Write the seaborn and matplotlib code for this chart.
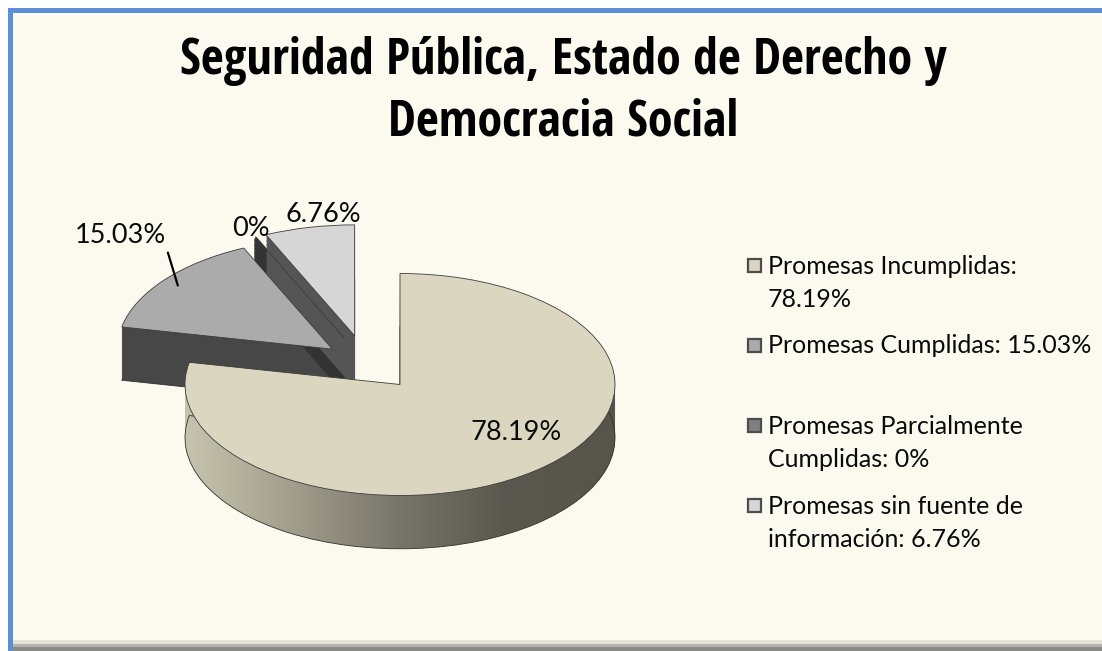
import numpy as np
import matplotlib
matplotlib.use("Agg")
import matplotlib.pyplot as plt
import seaborn as sns
from matplotlib.path import Path
from matplotlib.patches import PathPatch, Rectangle

# datos del grafico
categorias = ["Promesas Incumplidas", "Promesas Cumplidas",
              "Promesas Parcialmente Cumplidas", "Promesas sin fuente de información"]
porcentajes = [78.19, 15.03, 0.0, 6.76]
etiquetas = ["78.19%", "15.03%", "0%", "6.76%"]
leyenda = ["Promesas Incumplidas:\n78.19%", "Promesas Cumplidas: 15.03%",
           "Promesas Parcialmente\nCumplidas: 0%", "Promesas sin fuente de\ninformación: 6.76%"]
titulo = "Seguridad Pública, Estado de Derecho y\nDemocracia Social"

colores_tapa = ["#dad6c0", "#ababab", "#808080", "#d6d6d6"]
colores_lado = ["#8f8c7c", "#474747", "#333333", "#555555"]
# orden de dibujo (atras -> adelante)
rango = [3, 0, 1, 2]

sns.set_theme(style="white")
plt.rcParams["font.family"] = ["Lato", "DejaVu Sans"]

W, H = 1102, 651
fig = plt.figure(figsize=(W / 100, H / 100), dpi=100, facecolor="white")


def rect_px(x0, y0, x1, y1, color, z=-5, edge="none", lw=0):
    # rectangulo en pixeles de la figura (origen arriba a la izquierda)
    r = Rectangle((x0 / W, 1 - y1 / H), (x1 - x0) / W, (y1 - y0) / H,
                  transform=fig.transFigure, facecolor=color,
                  edgecolor=edge, linewidth=lw, zorder=z)
    fig.add_artist(r)
    return r


# marco del grafico
rect_px(13, 13, W, 651, "#fcfaef")
rect_px(13, 640, W, 644, "#e4e2d6")
rect_px(13, 644, W, 647, "#b4b3ac")
rect_px(13, 647, W, 651, "#8a8a88")
rect_px(8, 8, W, 13, "#5b8fd6")
rect_px(8, 8, 13, 651, "#5b8fd6")
rect_px(13, 13, W, 15, "#ffffff", z=-4)

ax = fig.add_axes([0, 0, 1, 1])
ax.set_facecolor("none")

# escala: radio = 215 px en x, 111 px en y, centro en (366, 363) px
RX, RY, CX, CY = 215, 111, 366, 363
N = 40
prof = 0.48
expl = [0.25, 0.2, 0.25, 0.25]

lados_main = []
for k in range(N, 0, -1):
    cunas, _ = ax.pie(porcentajes, explode=expl, startangle=90, counterclock=False,
                      center=(0, -prof * k / N), colors=colores_lado,
                      wedgeprops=dict(linewidth=0))
    for i, w in enumerate(cunas):
        w.set_zorder(1 + rango[i] + 0.5 * (N - k) / N)
        if k == N:
            w.set_edgecolor("#303030")
            w.set_linewidth(0.6)
    cunas[2].set_edgecolor("#333333")
    cunas[2].set_linewidth(2.4)
    lados_main.append(cunas[0])
    if k == N:
        cunas[0].set_facecolor("none")
        cunas[0].set_zorder(4.7)
    else:
        cunas[0].set_visible(False)

# cara lateral con degradado de la porcion principal
camino = Path.make_compound_path(*[w.get_path() for w in lados_main])
clip = PathPatch(camino, transform=ax.transData, facecolor="none", edgecolor="none")
cmap = sns.blend_palette(["#c6c3ae", "#a19e8c", "#77746a", "#5a574e", "#57544c"], as_cmap=True)
cx0, cy0 = lados_main[0].center
img = ax.imshow(np.linspace(0, 1, 256).reshape(1, -1), cmap=cmap, aspect="auto",
                extent=(cx0 - 1, cx0 + 1, cy0 - 1, cy0 + 1 + prof), zorder=4.6)
img.set_clip_path(clip)

tapas, _ = ax.pie(porcentajes, explode=expl, startangle=90, counterclock=False,
                  center=(0, 0), colors=colores_tapa,
                  wedgeprops=dict(linewidth=0.6, edgecolor="#3c3c3c"))
for w in tapas:
    w.set_zorder(10)

# etiquetas de datos
dist = [0.7, 0.92, 1.0, 1.0]
desp = [(15, 9), (-41, 36), (-3, 6), (10, 9)]
for i, w in enumerate(tapas):
    a = np.deg2rad((w.theta1 + w.theta2) / 2)
    xy = (w.center[0] + dist[i] * np.cos(a), w.center[1] + dist[i] * np.sin(a))
    flecha = None
    if i == 1:
        flecha = dict(arrowstyle="-", color="black", lw=1.6, relpos=(1.0, 0.0),
                      shrinkA=1, shrinkB=0)
    ax.annotate(etiquetas[i], xy=xy, xytext=desp[i], textcoords="offset points",
                ha="center", va="center", fontsize=19.5, color="#0a0a0a",
                arrowprops=flecha, zorder=11)

ax.set_aspect("auto")
ax.set_xlim(-CX / RX, (W - CX) / RX)
ax.set_ylim(-(H - CY) / RY, CY / RY)
ax.axis("off")

# leyenda (entradas con paso fijo, como en Excel)
for i, txt in enumerate(leyenda):
    base = 273 + 80 * i
    ultima = base + 33.7 * txt.count("\n")
    rect_px(748, base - 14, 761, base - 1, colores_tapa[i], z=5, edge="#4d4d4d", lw=1.6)
    fig.text(768 / W, 1 - ultima / H, txt, ha="left", va="baseline", fontsize=18,
             color="#0a0a0a", linespacing=1.52)

fig.text(0.511, 1 - 135 / H, titulo, ha="center", va="baseline", fontsize=36,
         fontweight="bold", fontstretch="condensed", color="black",
         family=["Open Sans Condensed", "DejaVu Sans"],
         linespacing=1.3)

fig.savefig("out.png", dpi=100, facecolor=fig.get_facecolor())
